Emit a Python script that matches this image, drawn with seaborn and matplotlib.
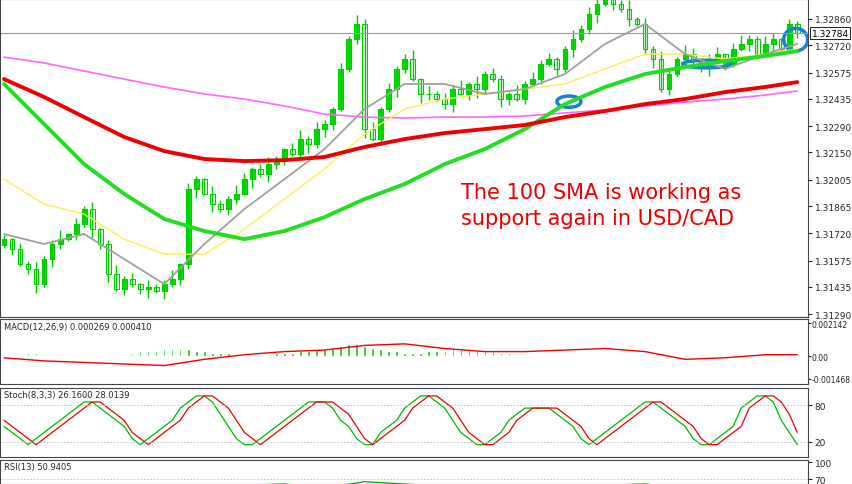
import matplotlib
matplotlib.use("Agg")
import matplotlib.pyplot as plt
import seaborn as sns
import numpy as np
import pandas as pd
from matplotlib.patches import Ellipse

sns.set_style("white")
plt.rcParams['font.family'] = ['DejaVu Sans']

closes = [1.31689,1.31636,1.31556,1.31530,1.31450,1.31583,1.31663,1.31689,1.31716,1.31769,
 1.31849,1.31742,1.31663,1.31503,1.31423,1.31476,1.31450,1.31423,1.31434,1.31413,
 1.31450,1.31476,1.31556,1.31955,1.32008,1.31929,1.31875,1.31849,1.31902,1.31929,
 1.32008,1.32062,1.32035,1.32088,1.32115,1.32168,1.32141,1.32221,1.32195,1.32274,
 1.32301,1.32381,1.32594,1.32753,1.32833,1.32274,1.32221,1.32381,1.32487,1.32594,
 1.32647,1.32540,1.32461,1.32461,1.32434,1.32407,1.32487,1.32461,1.32514,1.32487,
 1.32567,1.32540,1.32434,1.32461,1.32434,1.32514,1.32540,1.32620,1.32647,1.32594,
 1.32700,1.32753,1.32806,1.32886,1.32939,1.32966,1.32939,1.32913,1.32860,1.32833,
 1.32700,1.32647,1.32487,1.32567,1.32647,1.32673,1.32636,1.32604,1.32647,1.32673,
 1.32620,1.32700,1.32727,1.32753,1.32673,1.32727,1.32753,1.32700,1.32833,1.32784]
first_open = 1.31660
wick_up = "3142523614251362415236142153264135214625314263514236152436152431625341263541236142531642351463254132"
wick_dn = "2413625314263514236152436152431625341263541236142531642351463254132314252361425136241523614215326413"

ma_idx = [0,5,10,15,20,25,30,35,40,45,50,55,60,65,70,75,80,85,90,95,99]
sma100 = [1.32540,1.32445,1.32338,1.32232,1.32157,1.32115,1.32104,1.32109,1.32126,1.32179,1.32221,
          1.32253,1.32274,1.32296,1.32338,1.32370,1.32407,1.32434,1.32471,1.32498,1.32524]
sma_green = [1.32514,1.32301,1.32088,1.31929,1.31796,1.31732,1.31689,1.31732,1.31806,1.31902,1.31982,
             1.32088,1.32168,1.32274,1.32407,1.32498,1.32567,1.32604,1.32636,1.32663,1.32689]
sma_mag = [1.32657,1.32626,1.32583,1.32540,1.32498,1.32461,1.32434,1.32397,1.32354,1.32338,1.32333,
           1.32338,1.32338,1.32344,1.32360,1.32376,1.32397,1.32418,1.32434,1.32455,1.32477]
sma_gray = [1.31716,1.31663,1.31716,1.31583,1.31450,1.31663,1.31849,1.32008,1.32168,1.32381,1.32514,
            1.32514,1.32461,1.32487,1.32567,1.32727,1.32833,1.32673,1.32594,1.32673,1.32727]
sma_yel = [1.32008,1.31875,1.31822,1.31689,1.31609,1.31609,1.31742,1.31902,1.32062,1.32248,1.32381,
           1.32434,1.32461,1.32487,1.32514,1.32594,1.32673,1.32673,1.32647,1.32673,1.32700]

price_ticks = [1.32860,1.32720,1.32575,1.32435,1.32290,1.32150,1.32005,1.31865,1.31720,1.31575,1.31435,1.31290]
current = 1.32784

macd_hist = "1112211100000011233344443322211111222334456776543322233344443322110000000000011110000000000001122221"
macd_sig = [-0.0001,-0.0003,-0.0004,-0.0005,-0.0006,-0.0002,0.0001,0.0003,0.0004,0.0007,0.0008,
            0.0005,0.0003,0.0003,0.0004,0.0005,0.0003,-0.0002,-0.0001,0.0001,0.0001]
stoch_main = "4321234567887654212345789986421123456788875421134578998753211235677776542123456788765421123478998531"
stoch_sig  = "5432123456788765321234578998753212345678887642123457899875321123567777654212345678876542112347899863"
rsi_vals = [52,48,45,47,50,58,60,62,55,66,62,58,55,57,56,60,62,55,58,60,56]

n = len(closes)
opens = [first_open] + closes[:-1]
idx = np.arange(n)

fig = plt.figure(figsize=(8.52,4.85), dpi=100)
axm = fig.add_axes([0.0,0.344,0.948,0.656])
axd = fig.add_axes([0.0,0.206,0.948,0.134])
axs = fig.add_axes([0.0,0.056,0.948,0.142])
axr = fig.add_axes([0.0,0.0,0.948,0.05])

for i in range(n):
    o, c = opens[i], closes[i]
    hi = max(o,c) + int(wick_up[i])*0.00008
    lo = min(o,c) - int(wick_dn[i])*0.00008
    axm.vlines(i, lo, hi, color="#00cc00", lw=1)
    axm.bar(i, abs(c-o) if abs(c-o)>0 else 0.00002, bottom=min(o,c), width=0.6,
            color="#00e000" if c>=o else "white", edgecolor="#00cc00", lw=0.8)

df = pd.DataFrame({"i":ma_idx,"red":sma100,"g":sma_green,"m":sma_mag,"gr":sma_gray,"y":sma_yel})
sns.lineplot(data=df,x="i",y="m",ax=axm,color="#ff66ff",lw=1.2)
sns.lineplot(data=df,x="i",y="y",ax=axm,color="#ffee55",lw=1)
sns.lineplot(data=df,x="i",y="gr",ax=axm,color="#a0a0a0",lw=1.3)
sns.lineplot(data=df,x="i",y="g",ax=axm,color="#22dd22",lw=2.8)
sns.lineplot(data=df,x="i",y="red",ax=axm,color="#ee0000",lw=2.8)
axm.axhline(current, color="#999999", lw=0.8)
axm.set_xlim(-0.5, n+0.3)
axm.set_ylim(1.31274, 1.32966)
axm.yaxis.tick_right()
axm.set_yticks(price_ticks)
axm.set_yticklabels([f"{t:.5f}" for t in price_ticks])
axm.text(1.005, (current-1.31274)/(1.32966-1.31274), f"{current:.5f}", transform=axm.transAxes,
         fontsize=6.5, va="center", ha="left", color="black",
         bbox=dict(boxstyle="square,pad=0.15", fc="white", ec="black", lw=0.6))
axm.text(57, 1.3187, "The 100 SMA is working as\nsupport again in USD/CAD", color="#ee0000",
         fontsize=15, ha="left", va="center", linespacing=1.4)
for (cx,cy,w,h) in [(70.5,1.32420,3,0.0006),(87.7,1.32620,6,0.0004),(98.8,1.32750,3,0.0012)]:
    axm.add_patch(Ellipse((cx,cy),w,h,fill=False,ec="#1a7fd4",lw=2.5))

hv = [int(ch)*0.00011 for ch in macd_hist]
axd.bar(idx, hv, width=0.3, color="#00cc00")
dd = pd.DataFrame({"i":ma_idx,"s":macd_sig})
sns.lineplot(data=dd,x="i",y="s",ax=axd,color="#ee0000",lw=1)
axd.set_xlim(-0.5,n+0.3); axd.set_ylim(-0.0018,0.0024)
axd.yaxis.tick_right(); axd.set_yticks([0.002142,0.0,-0.001468])
axd.set_yticklabels(["0.002142","0.00","-0.001468"])
axd.text(0.005,0.95,"MACD(12,26,9) 0.000269 0.000410",transform=axd.transAxes,fontsize=6,va="top")

sm = [int(ch)*10+5 for ch in stoch_main]
ss = [int(ch)*10+5 for ch in stoch_sig]
sdf = pd.DataFrame({"i":idx,"m":sm,"s":ss})
sns.lineplot(data=sdf,x="i",y="m",ax=axs,color="#00bb00",lw=0.9)
sns.lineplot(data=sdf,x="i",y="s",ax=axs,color="#ee0000",lw=0.9)
for lv in (80,20):
    axs.axhline(lv,color="#bbbbbb",lw=0.6,ls=(0,(2,2)))
axs.set_xlim(-0.5,n+0.3); axs.set_ylim(-5,108)
axs.yaxis.tick_right(); axs.set_yticks([80,20])
axs.text(0.005,0.97,"Stoch(8,3,3) 26.1600 28.0139",transform=axs.transAxes,fontsize=6,va="top")

rdf = pd.DataFrame({"i":ma_idx,"r":rsi_vals})
sns.lineplot(data=rdf,x="i",y="r",ax=axr,color="#00aa00",lw=0.9)
axr.axhline(70,color="#bbbbbb",lw=0.6,ls=(0,(2,2)))
axr.set_xlim(-0.5,n+0.3); axr.set_ylim(62,104)
axr.yaxis.tick_right(); axr.set_yticks([100,70])
axr.text(0.005,0.9,"RSI(13) 50.9405",transform=axr.transAxes,fontsize=6,va="top")

for a in (axm,axd,axs,axr):
    a.set_xticks([]); a.set_xlabel(""); a.set_ylabel("")
    a.tick_params(axis="y",labelsize=6.5,length=3,pad=2)
    for s in a.spines.values():
        s.set_color("#444444"); s.set_linewidth(0.8)
axd.tick_params(axis="y",labelsize=5.5,length=2,pad=1)

fig.savefig("out.png", dpi=100)
